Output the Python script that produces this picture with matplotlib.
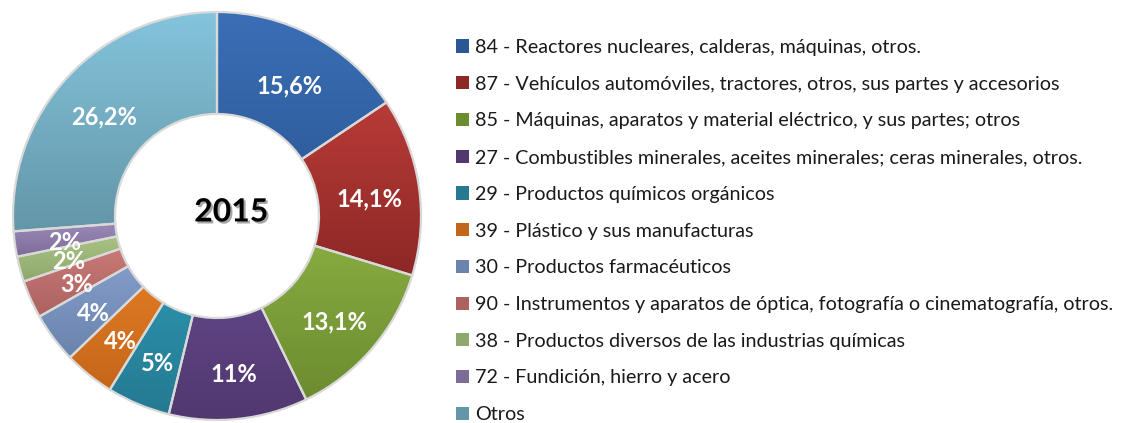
"""Donut chart of 2015 import shares by chapter, with a legend on the right."""

import matplotlib

matplotlib.use("Agg")

import matplotlib.pyplot as plt
import matplotlib.patheffects as pe
import numpy as np
from matplotlib.colors import to_rgb
from matplotlib.patches import Patch

plt.rcParams["font.family"] = ["Lato", "DejaVu Sans"]

chapters = [
    "84 - Reactores nucleares, calderas, máquinas, otros.",
    "87 - Vehículos automóviles, tractores, otros, sus partes y accesorios",
    "85 - Máquinas, aparatos y material eléctrico, y sus partes; otros",
    "27 - Combustibles minerales, aceites minerales; ceras minerales, otros.",
    "29 - Productos químicos orgánicos",
    "39 - Plástico y sus manufacturas",
    "30 - Productos farmacéuticos",
    "90 - Instrumentos y aparatos de óptica, fotografía o cinematografía, otros.",
    "38 - Productos diversos de las industrias químicas",
    "72 - Fundición, hierro y acero",
    "Otros",
]
shares = [15.6, 14.1, 13.1, 11, 5, 4, 4, 3, 2, 2, 26.2]
share_labels = ["15,6%", "14,1%", "13,1%", "11%", "5%", "4%", "4%", "3%", "2%", "2%", "26,2%"]
year_label = "2015"

# light (top) and dark (bottom) shade of each slice, Excel-like gradient
top_colors = ["#3a6fb6", "#b83b37", "#8db043", "#6b4d94", "#2f9eb9", "#f08628",
              "#8fa9d5", "#d58481", "#b5cf8f", "#a18fbf", "#84c4dc"]
bottom_colors = ["#2b5895", "#8c2826", "#6c8c30", "#51386f", "#257a92", "#c4661a",
                 "#6a84ae", "#ad6260", "#8fa86c", "#7d6c98", "#6396a8"]

fig = plt.figure(figsize=(11.23, 4.23), dpi=100)
center_px = (217, 216)
radius_px = 204
ax = fig.add_axes([
    (center_px[0] - radius_px) / 1123,
    (423 - center_px[1] - radius_px) / 423,
    2 * radius_px / 1123,
    2 * radius_px / 423,
])

wedges, _ = ax.pie(
    shares,
    startangle=90,
    counterclock=False,
    radius=1.0,
    colors=bottom_colors,
    wedgeprops=dict(width=0.5, edgecolor="#d9d9d9", linewidth=1.6),
)
ax.set_xlim(-1, 1)
ax.set_ylim(-1, 1)
ax.set_aspect("equal")
ax.axis("off")

for wedge, c_top, c_bot, label in zip(wedges, top_colors, bottom_colors, share_labels):
    verts = wedge.get_path().vertices
    x0, y0 = verts.min(axis=0)
    x1, y1 = verts.max(axis=0)
    t = np.linspace(0, 1, 64)[:, None]
    grad = (1 - t) * np.array(to_rgb(c_top)) + t * np.array(to_rgb(c_bot))
    img = ax.imshow(grad[:, None, :], extent=[x0, x1, y0, y1], origin="upper",
                    aspect="auto", zorder=1, interpolation="bilinear")
    img.set_clip_path(wedge)
    wedge.set_facecolor("none")
    wedge.set_zorder(2)

    # Excel puts the labels a touch below the ring's mid line
    mid = np.deg2rad((wedge.theta1 + wedge.theta2) / 2)
    ax.text(0.755 * np.cos(mid), 0.755 * np.sin(mid) - 0.028, label, ha="center",
            va="center", color="white", fontsize=17, fontweight="bold", zorder=3)

ax.text(0.07, 0.02, year_label, ha="center", va="center", fontsize=23,
        fontweight="bold", color="black", zorder=3,
        path_effects=[pe.SimplePatchShadow(offset=(1.5, -1.5), alpha=0.35), pe.Normal()])

handles = [Patch(facecolor=c) for c in bottom_colors]
fig.legend(
    handles,
    chapters,
    loc="upper left",
    bbox_to_anchor=(456 / 1123, 1 - 39 / 423),
    frameon=False,
    fontsize=14.2,
    labelcolor="#1a1a1a",
    handlelength=0.65,
    handleheight=0.65,
    handletextpad=0.3,
    labelspacing=1.0,
    borderpad=0,
    borderaxespad=0,
)

fig.savefig("out.png", dpi=100, facecolor="white")
